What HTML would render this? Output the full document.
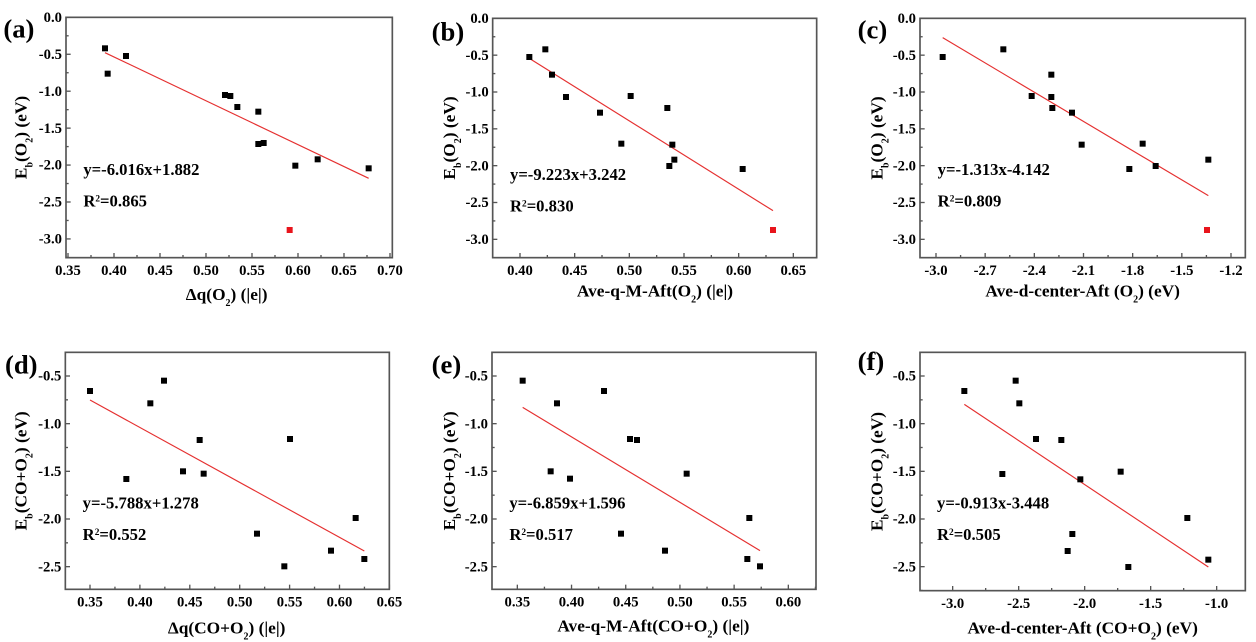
<!DOCTYPE html>
<html><head><meta charset="utf-8"><style>
html,body{margin:0;padding:0;background:#fff;}
svg{display:block;}
svg text{font-family:"Liberation Serif","Times New Roman",serif !important;font-weight:bold;}
</style></head><body>
<svg id="s" width="1256" height="642" viewBox="0 0 1256 642" xmlns="http://www.w3.org/2000/svg" font-family="Liberation Serif, serif"></svg>
<script>
const P=[
{o:[0,0],f:[198,52,1177,773],yl:["0.0","-0.5","-1.0","-1.5","-2.0","-2.5","-3.0"],y0:52,ys:110.8,
 xl:["0.35","0.40","0.45","0.50","0.55","0.60","0.65","0.70"],x0:204,xs:138,
 pts:[[315,145],[378,168],[323,221],[675,285],[691,288],[712,321],[775,335],[775,432],[791,429],[886,497],[953,478],[1106,505]],red:[869,690],
 ln:[315,158,1106,535],eq:["y=-6.016x+1.882","0.865"],ex:250,eb:525,
 ylab:"O₂",ycx:80,xlab:'Δq(O<tspan baseline-shift="sub" font-size="30">2</tspan>) (|e|)',xcx:680,xb:900,lab:"(a)",lx:10,lb:112},
{o:[420,0],f:[218,55,1190,773],yl:["0.0","-0.5","-1.0","-1.5","-2.0","-2.5","-3.0"],y0:55,ys:110.5,
 xl:["0.40","0.45","0.50","0.55","0.60","0.65"],x0:300,xs:164,
 pts:[[328,171],[376,148],[396,224],[438,291],[540,338],[604,431],[632,288],[742,324],[757,434],[748,498],[763,479],[968,507]],red:[1059,690],
 ln:[328,175,1059,632],eq:["y=-9.223x+3.242","0.830"],ex:270,eb:540,
 ylab:"O₂",ycx:105,xlab:'Ave-q-M-Aft(O<tspan baseline-shift="sub" font-size="30">2</tspan>) (|e|)',xcx:705,xb:890,lab:"(b)",lx:35,lb:122},
{o:[836,0],f:[252,55,1228,773],yl:["0.0","-0.5","-1.0","-1.5","-2.0","-2.5","-3.0"],y0:55,ys:110.5,
 xl:["-3.0","-2.7","-2.4","-2.1","-1.8","-1.5","-1.2"],x0:300,xs:147.5,
 pts:[[320,171],[502,148],[587,288],[646,224],[646,291],[649,324],[708,338],[737,434],[880,507],[920,431],[959,498],[1117,479]],red:[1113,690],
 ln:[320,113,1117,587],eq:["y=-1.313x-4.142","0.809"],ex:305,eb:525,
 ylab:"O₂",ycx:140,xlab:'Ave-d-center-Aft (O<tspan baseline-shift="sub" font-size="30">2</tspan>) (eV)',xcx:740,xb:890,lab:"(c)",lx:65,lb:115},
{o:[0,320],f:[196,97,1168,808],yl:["-0.5","-1.0","-1.5","-2.0","-2.5"],y0:168,ys:143,
 xl:["0.35","0.40","0.45","0.50","0.55","0.60","0.65"],x0:270,xs:149.7,
 pts:[[270,213],[379,477],[451,250],[492,182],[549,454],[599,360],[611,461],[771,641],[853,739],[870,357],[993,692],[1067,594],[1093,717]],red:null,
 ln:[270,240,1093,693],eq:["y=-5.788x+1.278","0.552"],ex:248,eb:565,
 ylab:"CO+O₂",ycx:80,xlab:'Δq(CO+O<tspan baseline-shift="sub" font-size="30">2</tspan>) (|e|)',xcx:680,xb:940,lab:"(d)",lx:15,lb:160},
{o:[420,320],f:[216,97,1188,808],yl:["-0.5","-1.0","-1.5","-2.0","-2.5"],y0:168,ys:143,
 xl:["0.35","0.40","0.45","0.50","0.55","0.60"],x0:292,xs:162.6,
 pts:[[308,182],[392,454],[411,250],[450,476],[552,213],[603,641],[630,357],[651,360],[735,692],[800,461],[982,717],[988,594],[1020,739]],red:null,
 ln:[308,262,1020,692],eq:["y=-6.859x+1.596","0.517"],ex:268,eb:565,
 ylab:"CO+O₂",ycx:105,xlab:'Ave-q-M-Aft(CO+O<tspan baseline-shift="sub" font-size="30">2</tspan>) (|e|)',xcx:700,xb:935,lab:"(e)",lx:35,lb:160},
{o:[836,320],f:[252,97,1228,812],yl:["-0.5","-1.0","-1.5","-2.0","-2.5"],y0:168,ys:143,
 xl:["-3.0","-2.5","-2.0","-1.5","-1.0"],x0:350,xs:198,
 pts:[[385,213],[499,462],[539,182],[550,250],[600,357],[676,360],[695,693],[709,642],[733,478],[854,455],[877,741],[1054,594],[1117,719]],red:null,
 ln:[385,253,1117,741],eq:["y=-0.913x-3.448","0.505"],ex:303,eb:565,
 ylab:"CO+O₂",ycx:140,xlab:'Ave-d-center-Aft (CO+O<tspan baseline-shift="sub" font-size="30">2</tspan>) (eV)',xcx:740,xb:940,lab:"(f)",lx:65,lb:150}
];
let h="";
const FF='font-family="Liberation Serif, Times New Roman, serif" font-weight="bold"';
for(const p of P){
 const [x1,y1,x2,y2]=p.f;
 h+=`<g transform="translate(${p.o[0]},${p.o[1]}) scale(0.33333)">`;
 h+=`<rect x="${x1}" y="${y1}" width="${x2-x1}" height="${y2-y1}" fill="none" stroke="#555" stroke-width="5"/>`;
 for(let i=0;i<p.yl.length;i++){
  const y=p.y0+i*p.ys;
  h+=`<line x1="${x1}" y1="${y}" x2="${x1+14}" y2="${y}" stroke="#555" stroke-width="4"/>`;
  h+=`<text ${FF} x="${x1-12}" y="${y+14}" font-size="44" text-anchor="end">${p.yl[i]}</text>`;
 }
 for(let y=p.y0-p.ys/2;y<y2;y+=p.ys){ if(y>y1+2) h+=`<line x1="${x1}" y1="${y}" x2="${x1+8}" y2="${y}" stroke="#555" stroke-width="4"/>`;}
 for(let i=0;i<p.xl.length;i++){
  const x=p.x0+i*p.xs;
  h+=`<line x1="${x}" y1="${y2}" x2="${x}" y2="${y2-14}" stroke="#555" stroke-width="4"/>`;
  h+=`<text ${FF} x="${x}" y="${y2+52}" font-size="44" text-anchor="middle">${p.xl[i]}</text>`;
 }
 for(let x=p.x0-p.xs/2;x<x2;x+=p.xs){ if(x>x1+2) h+=`<line x1="${x}" y1="${y2}" x2="${x}" y2="${y2-8}" stroke="#555" stroke-width="4"/>`;}
 const l=p.ln;
 h+=`<line x1="${l[0]}" y1="${l[1]}" x2="${l[2]}" y2="${l[3]}" stroke="#e53030" stroke-width="3.5"/>`;
 for(const q of p.pts) h+=`<rect x="${q[0]-9}" y="${q[1]-9}" width="18" height="18" fill="#000"/>`;
 if(p.red) h+=`<rect x="${p.red[0]-9}" y="${p.red[1]-9}" width="18" height="18" fill="#e8141c"/>`;
 h+=`<text ${FF} x="${p.ex}" y="${p.eb}" font-size="50">${p.eq[0]}</text>`;
 h+=`<text ${FF} x="${p.ex}" y="${p.eb+95}" font-size="50">R<tspan baseline-shift="super" font-size="28">2</tspan>=${p.eq[1]}</text>`;
 const ym=(y1+y2)/2;
 const sub=p.ylab.replace("₂",'<tspan baseline-shift="sub" font-size="30">2</tspan>');
 h+=`<text ${FF} transform="translate(${p.ycx},${ym}) rotate(-90)" font-size="52" text-anchor="middle">E<tspan baseline-shift="sub" font-size="30">b</tspan>(${sub}) (eV)</text>`;
 h+=`<text ${FF} x="${p.xcx}" y="${p.xb}" font-size="52" text-anchor="middle">${p.xlab}</text>`;
 h+=`<text ${FF} x="${p.lx}" y="${p.lb}" font-size="80">${p.lab}</text>`;
 h+=`</g>`;
}
document.getElementById("s").innerHTML=h;
</script>
</body></html>
